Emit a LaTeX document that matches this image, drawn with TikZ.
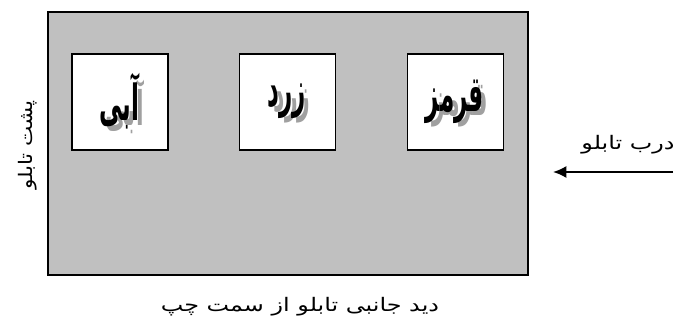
\documentclass[tikz,border=0pt]{standalone}
\usepackage{fontspec}
\usetikzlibrary{arrows.meta}
\newfontfamily\fa[Script=Arabic]{DejaVu Sans}
\TeXXeTstate=1
\definecolor{panelgray}{HTML}{C0C0C0}
\definecolor{shadowgray}{HTML}{A0A0A0}
\newcommand{\boxword}[1]{\scalebox{0.72}[1.55]{\beginR #1\endR}}
\newcommand{\labelword}[1]{\scalebox{1.28}[1]{\beginR #1\endR}}
\begin{document}
\begin{tikzpicture}[x=0.75pt,y=-0.75pt]
\useasboundingbox (0,0) rectangle (678,320);
\tikzset{
  panel/.style={draw=black, fill=panelgray, line width=1.5pt, inner sep=0pt, minimum width=360pt, minimum height=197.25pt},
  colorbox/.style={draw=black, fill=white, line width=1.1pt, inner sep=0pt, minimum width=72pt, minimum height=72pt},
  boxtext/.style={font=\fa\bfseries\fontsize{24}{28}\selectfont, text=black, inner sep=0pt},
  boxshadow/.style={font=\fa\bfseries\fontsize{23}{28}\selectfont, text=shadowgray, inner sep=0pt},
  label/.style={font=\fa\fontsize{14}{16}\selectfont, inner sep=0pt},
  pointer/.style={line width=1.3pt, -{Latex[length=10pt,width=9pt]}}
}
\node[panel] (panel) at (288,143.5) {};
\node[colorbox] (b1) at (120,102) {};
\node[colorbox] (b2) at (287.5,102) {};
\node[colorbox] (b3) at (455.5,102) {};
\node[boxshadow] (s1) at ([xshift=3.5pt,yshift=-3.5pt]b1.center) {\boxword{آبی}};
\node[boxtext] (t1) at ([xshift=-0.5pt,yshift=0.5pt]b1.center) {\boxword{آبی}};
\node[boxshadow] (s2) at ([xshift=3.5pt,yshift=-3.5pt]b2.center) {\boxword{زرد}};
\node[boxtext] (t2) at ([xshift=-0.5pt,yshift=0.5pt]b2.center) {\boxword{زرد}};
\node[boxshadow] (s3) at ([xshift=3.5pt,yshift=-3.5pt]b3.center) {\boxword{قرمز}};
\node[boxtext] (t3) at ([xshift=-0.5pt,yshift=0.5pt]b3.center) {\boxword{قرمز}};
\node[label, rotate=90] (back) at (28,145) {\scalebox{1.15}[1]{\beginR پشت تابلو\endR}};
\node[label] (door) at (628,145) {\labelword{درب تابلو}};
\node[label] (caption) at (300,307) {\labelword{دید جانبی تابلو از سمت چپ}};
\coordinate (arrowstart) at (673,172);
\coordinate (arrowend) at (553,172);
\draw[pointer] (arrowstart) -- (arrowend);
\end{tikzpicture}
\end{document}
